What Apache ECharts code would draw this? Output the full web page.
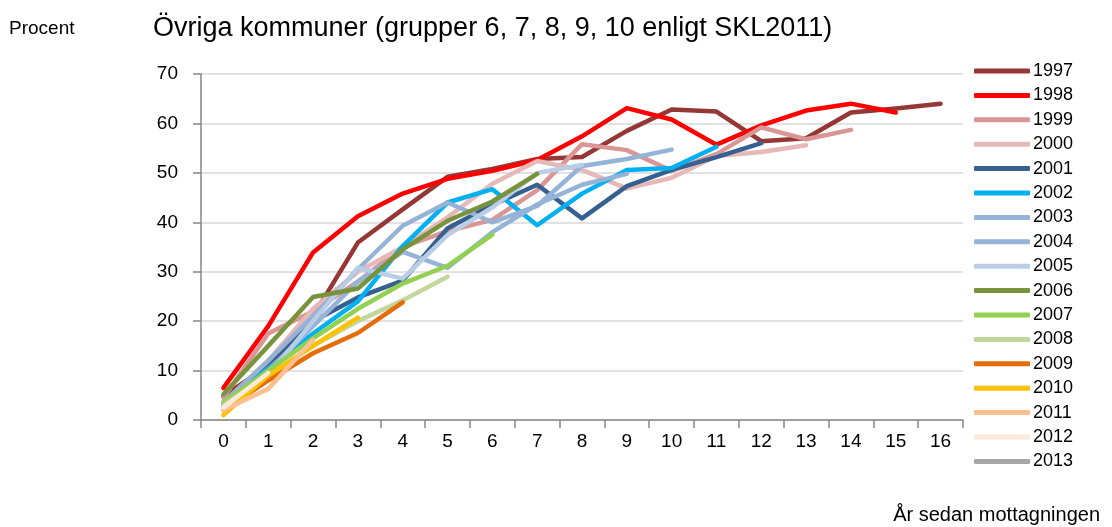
<!DOCTYPE html>
<html>
<head>
<meta charset="utf-8">
<title>Övriga kommuner</title>
<script src="https://cdn.jsdelivr.net/npm/echarts@6/dist/echarts.min.js"></script>
<style>
	html, body { margin: 0; padding: 0; background: #ffffff; }
	.r_chart { width: 1112px; height: 527px; }
</style>
</head>
<body>
<div class="r_chart"></div>
<script>
/**
 * Övriga kommuner, andel per år sedan mottagningen
 * */

//x-axis categories (år sedan mottagningen)
var years = ['0', '1', '2', '3', '4', '5', '6', '7', '8', '9', '10', '11', '12', '13', '14', '15', '16'];

//series values per mottagningsår
var s1997 = [4.8, 11, 21, 35.9, 42.6, 49.2, 50.8, 52.8, 53.2, 58.5, 62.8, 62.4, 56.4, 57, 62.2, 63, 64];
var s1998 = [6.5, 19, 33.9, 41.2, 45.8, 48.8, 50.4, 52.6, 57.4, 63.1, 60.8, 55.7, 59.6, 62.6, 64, 62.2];
var s1999 = [4.5, 17.5, 22, 28, 35, 38.2, 40.5, 46.5, 55.8, 54.6, 50.4, 53.8, 59.2, 56.8, 58.7];
var s2000 = [3.5, 12, 22.5, 30, 35, 41, 47.8, 52.4, 50.6, 46.8, 49, 53.4, 54.2, 55.6];
var s2001 = [3, 10.5, 20, 24.8, 28.2, 38.8, 43.5, 47.6, 40.8, 47.3, 50.6, 53.2, 56];
var s2002 = [3, 10.5, 17.5, 24, 35.2, 44, 46.7, 39.4, 45.8, 50.6, 51, 55.3];
var s2003 = [3.5, 12, 21, 30.5, 39.3, 44, 40, 43.3, 51.4, 52.8, 54.7];
var s2004 = [3, 10, 19, 28, 34, 30.8, 38, 43.6, 47.6, 49.8];
var s2005 = [2.5, 9, 20, 30.8, 28.6, 37.4, 43, 50, 51.6];
var s2006 = [5.2, 15, 24.9, 26.6, 34.5, 40.3, 44.2, 49.8];
var s2007 = [3.5, 10, 16.5, 22.5, 27.6, 31.2, 37.5];
var s2008 = [3, 9, 15, 20, 24.2, 29];
var s2009 = [2, 8, 13.5, 17.6, 23.8];
var s2010 = [1, 9, 15, 20.7];
var s2011 = [2, 6.3, 16.2];
var s2012 = [2.5, 9.5];
var s2013 = [3];

//series names and colours, same order as the legend
var names = ['1997', '1998', '1999', '2000', '2001', '2002', '2003', '2004', '2005', '2006', '2007', '2008', '2009', '2010', '2011', '2012', '2013'];
var values = [s1997, s1998, s1999, s2000, s2001, s2002, s2003, s2004, s2005, s2006, s2007, s2008, s2009, s2010, s2011, s2012, s2013];
var colors = ['#953735', '#ff0000', '#d99694', '#e6b9b8', '#376092', '#00b0f0', '#95b3d7', '#95b3d7', '#b9cde5',
	'#77933c', '#92d050', '#c3d69b', '#e46c0a', '#ffc000', '#fac090', '#fdeada', '#a6a6a6'];

var font = '"Liberation Sans", Arial, sans-serif';

var chart = echarts.init(document.querySelector('.r_chart'));

//build the line series
var series = [];
for (var i = 0; i < names.length; i++) {
	series.push({
		name: names[i],
		type: 'line',
		data: values[i],
		symbol: 'none',
		smooth: false,
		animation: false,
		lineStyle: {
			color: colors[i],
			width: 4.5,
			cap: 'round',
			join: 'round'
		},
		itemStyle: {
			color: colors[i]
		}
	});
}

var option = {
	backgroundColor: '#ffffff',
	animation: false,
	title: [{
		text: 'Procent',
		left: 9,
		top: 19,
		padding: 0,
		textStyle: { fontFamily: font, fontSize: 19, fontWeight: 'normal', color: '#000000' }
	}, {
		text: 'Övriga kommuner (grupper 6, 7, 8, 9, 10 enligt SKL2011)',
		left: 153,
		top: 15,
		padding: 0,
		textStyle: { fontFamily: font, fontSize: 27, fontWeight: 'normal', color: '#000000' }
	}, {
		text: 'År sedan mottagningen',
		right: 12,
		top: 505,
		padding: 0,
		textStyle: { fontFamily: font, fontSize: 20, fontWeight: 'normal', color: '#000000' }
	}],
	legend: {
		orient: 'vertical',
		left: 974,
		top: 61,
		padding: 0,
		icon: 'roundRect',
		itemWidth: 56,
		itemHeight: 5,
		itemGap: 4.4,
		data: names,
		textStyle: {
			fontFamily: font,
			fontSize: 18,
			lineHeight: 20,
			color: '#000000',
			padding: [0, 0, 0, -2]
		}
	},
	grid: {
		left: 201,
		right: 149,
		top: 74,
		bottom: 107
	},
	xAxis: {
		type: 'category',
		data: years,
		boundaryGap: true,
		axisLine: { lineStyle: { color: '#868686', width: 1.5 } },
		axisTick: { show: true, interval: 0, length: 8, lineStyle: { color: '#868686', width: 1.5 } },
		axisLabel: { interval: 0, margin: 12, fontFamily: font, fontSize: 19, color: '#000000' },
		splitLine: { show: false }
	},
	yAxis: {
		type: 'value',
		min: 0,
		max: 70,
		interval: 10,
		axisLine: { show: true, lineStyle: { color: '#868686', width: 1.5 } },
		axisTick: { show: true, length: 8, lineStyle: { color: '#868686', width: 1.5 } },
		axisLabel: { margin: 23, fontFamily: font, fontSize: 19, color: '#000000' },
		splitLine: { lineStyle: { color: '#d9d9d9', width: 1.5 } }
	},
	series: series
};

chart.setOption(option);
</script>
</body>
</html>
